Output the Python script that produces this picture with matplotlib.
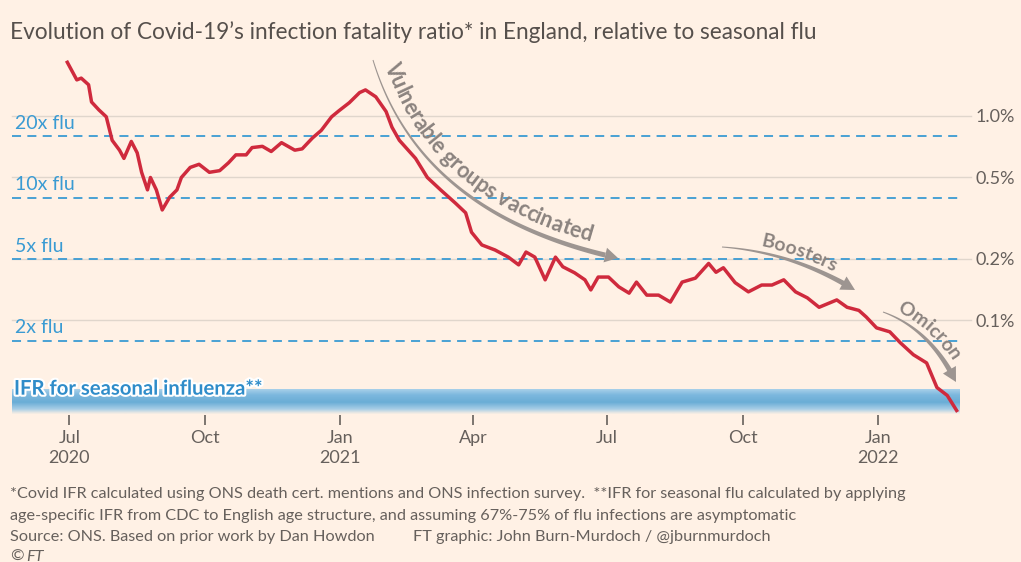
import numpy as np
import pandas as pd
import matplotlib
matplotlib.use("Agg")
import matplotlib.pyplot as plt
from matplotlib.colors import LinearSegmentedColormap
from matplotlib.patches import Polygon
from matplotlib.ticker import NullLocator
from matplotlib.font_manager import FontProperties
from matplotlib import patheffects

W, H = 1021, 562
BG = "#fff1e5"
FONT = "Lato"

# Covid IFR (%), roughly weekly
dates = [
    "2020-06-29", "2020-07-06", "2020-07-09", "2020-07-14", "2020-07-16", "2020-07-21",
    "2020-07-26", "2020-07-30", "2020-08-04", "2020-08-07", "2020-08-12", "2020-08-16",
    "2020-08-19", "2020-08-23", "2020-08-25", "2020-08-29", "2020-09-02", "2020-09-07",
    "2020-09-12", "2020-09-15", "2020-09-21", "2020-09-27", "2020-10-04", "2020-10-11",
    "2020-10-17", "2020-10-22", "2020-10-29", "2020-11-02", "2020-11-09", "2020-11-15",
    "2020-11-22", "2020-12-01", "2020-12-06", "2020-12-13", "2020-12-19", "2020-12-26",
    "2020-12-31", "2021-01-07", "2021-01-14", "2021-01-18", "2021-01-25", "2021-02-01",
    "2021-02-05", "2021-02-10", "2021-02-21", "2021-03-01", "2021-03-10", "2021-03-20",
    "2021-03-27", "2021-03-31", "2021-04-07", "2021-04-16", "2021-04-25", "2021-05-02",
    "2021-05-07", "2021-05-13", "2021-05-20", "2021-05-27", "2021-06-01", "2021-06-09",
    "2021-06-16", "2021-06-20", "2021-06-25", "2021-07-02", "2021-07-09", "2021-07-16",
    "2021-07-21", "2021-07-28", "2021-08-05", "2021-08-13", "2021-08-21", "2021-08-30",
    "2021-09-08", "2021-09-13", "2021-09-18", "2021-09-26", "2021-10-05", "2021-10-14",
    "2021-10-21", "2021-10-29", "2021-11-06", "2021-11-14", "2021-11-22", "2021-12-04",
    "2021-12-11", "2021-12-19", "2021-12-24", "2021-12-31", "2022-01-09", "2022-01-16",
    "2022-01-25", "2022-02-03", "2022-02-10", "2022-02-17", "2022-02-24",
]
ifr_pct = [
    1.86, 1.50, 1.53, 1.42, 1.17, 1.07,
    0.99, 0.76, 0.68, 0.62, 0.75, 0.66,
    0.53, 0.435, 0.50, 0.435, 0.347, 0.40,
    0.435, 0.50, 0.56, 0.58, 0.53, 0.54,
    0.59, 0.645, 0.645, 0.70, 0.71, 0.67,
    0.74, 0.68, 0.69, 0.78, 0.85, 0.99,
    1.06, 1.16, 1.30, 1.34, 1.24, 1.05,
    0.88, 0.76, 0.62, 0.50, 0.435, 0.375,
    0.336, 0.27, 0.234, 0.221, 0.204, 0.187,
    0.216, 0.204, 0.158, 0.204, 0.183, 0.171,
    0.158, 0.141, 0.163, 0.163, 0.146, 0.136,
    0.154, 0.133, 0.133, 0.123, 0.154, 0.161,
    0.19, 0.172, 0.181, 0.153, 0.138, 0.149,
    0.149, 0.158, 0.138, 0.129, 0.116, 0.126,
    0.116, 0.112, 0.104, 0.092, 0.088, 0.078,
    0.068, 0.062, 0.047, 0.043, 0.0357,
]

flu_ifr = 0.0399
flu_range = (0.0347, 0.0464)
flu_multiples = [2, 5, 10, 20]

pct_ticks = [0.1, 0.2, 0.5, 1.0]
pct_labels = ["0.1%", "0.2%", "0.5%", "1.0%"]
month_ticks = ["2020-07-01", "2020-10-01", "2021-01-01", "2021-04-01",
               "2021-07-01", "2021-10-01", "2022-01-01"]
month_labels = ["Jul\n2020", "Oct", "Jan\n2021", "Apr", "Jul", "Oct", "Jan\n2022"]

TEXT = "#66605c"
BLUE = "#3a9bd3"
RED = "#cf2a3d"
GREY_ARROW = "#9d9591"
GREY_TEXT = "#8b837f"


def fig_xy(x, y):
    """Reference pixel (y down) -> figure fraction."""
    return x / W, 1 - y / H


fig = plt.figure(figsize=(W / 100, H / 100), dpi=100, facecolor=BG)
ax = fig.add_axes([12 / W, 1 - 415 / H, 948 / W, 365 / H], facecolor=BG)

x = pd.to_datetime(dates)
ax.set_yscale("log")
ax.set_ylim(0.0345, 2.10)
ax.set_xlim(pd.Timestamp("2020-05-23"), pd.Timestamp("2022-02-25 16:00"))

# solid percentage gridlines, running slightly past the plot
for v in pct_ticks:
    ax.axhline(v, color="#e0d6cc", lw=1.0, xmax=1.012, clip_on=False, zorder=1)

# dashed multiples-of-flu lines
for m in flu_multiples:
    ax.axhline(flu_ifr * m, color=BLUE, lw=1.3, ls=(0, (5, 3.5)), zorder=2)
    ax.annotate(f"{m}x flu", xy=(0, flu_ifr * m), xycoords=("axes fraction", "data"),
                xytext=(2.5, 3), textcoords="offset points", va="bottom", ha="left",
                color=BLUE, fontsize=14, family=FONT)

# seasonal flu band as a vertical gradient
band_cmap = LinearSegmentedColormap.from_list(
    "flu", [(0, "#b3d6ec"), (0.3, "#7db8de"), (0.6, "#6aadd6"), (0.85, "#a6cde6"), (1, "#f3ece4")])
grad = np.linspace(0, 1, 100)[:, None]
xl = ax.get_xlim()
ax.imshow(grad, cmap=band_cmap, aspect="auto", origin="upper",
          extent=[xl[0], xl[1], flu_range[0], flu_range[1]], zorder=3, interpolation="bilinear")
ax.set_xlim(xl)
ax.set_ylim(0.0345, 2.10)

flu_lbl = ax.text(2 / 948, flu_range[1], "IFR for seasonal influenza**",
                  transform=ax.get_yaxis_transform(), fontsize=14.6, family=FONT,
                  fontweight="bold", color="#2f8cc9", va="center", ha="left", zorder=4)
flu_lbl.set_path_effects([patheffects.withStroke(linewidth=3, foreground="white")])

ax.plot(x, ifr_pct, color=RED, lw=2.5, solid_joinstyle="round", solid_capstyle="butt", zorder=5)

# axes furniture
for s in ax.spines.values():
    s.set_visible(False)
ax.yaxis.tick_right()
ax.set_yticks(pct_ticks)
ax.set_yticklabels(pct_labels)
ax.yaxis.set_minor_locator(NullLocator())
ax.tick_params(axis="y", length=0, pad=11, labelsize=13, labelcolor=TEXT)
ax.set_xticks(pd.to_datetime(month_ticks))
ax.set_xticklabels(month_labels, linespacing=1.3)
ax.tick_params(axis="x", length=7, width=1.2, color=TEXT, pad=4, labelsize=13, labelcolor=TEXT)
for lbl in ax.get_xticklabels() + ax.get_yticklabels():
    lbl.set_family(FONT)

# curved arrows with text along them
renderer = fig.canvas.get_renderer()


def curved_annotation(p0, p1, p2, label, text_start, fs, w0=1.0, w1=5.0, head_len=14, head_w=15, off=6):
    p0 = np.array([p0[0], H - p0[1]], float)
    p1 = np.array([p1[0], H - p1[1]], float)
    p2 = np.array([p2[0], H - p2[1]], float)
    t = np.linspace(0, 1, 400)[:, None]
    pts = (1 - t) ** 2 * p0 + 2 * (1 - t) * t * p1 + t ** 2 * p2
    seg = np.hypot(*np.diff(pts, axis=0).T)
    arc = np.concatenate([[0], np.cumsum(seg)])
    tang = np.gradient(pts, axis=0)
    tang /= np.hypot(tang[:, 0], tang[:, 1])[:, None]
    norm = np.column_stack([-tang[:, 1], tang[:, 0]])

    L = arc[-1]
    body = arc <= L - head_len + 1
    wid = w0 + (w1 - w0) * arc[body] / (L - head_len)
    left = pts[body] + norm[body] * wid[:, None] / 2
    right = pts[body] - norm[body] * wid[:, None] / 2
    poly = np.vstack([left, right[::-1]])
    fig.add_artist(Polygon(poly / [W, H], closed=True, transform=fig.transFigure,
                           fc=GREY_ARROW, ec="none", zorder=6))
    i = np.searchsorted(arc, L - head_len)
    base, nm = pts[i], norm[i]
    head = np.array([base + nm * head_w / 2, pts[-1], base - nm * head_w / 2])
    fig.add_artist(Polygon(head / [W, H], closed=True, transform=fig.transFigure,
                           fc=GREY_ARROW, ec="none", zorder=6))

    # text baseline follows the offset curve, spaced by its own arc length
    base_pts = pts + norm * off
    base_arc = np.concatenate([[0], np.cumsum(np.hypot(*np.diff(base_pts, axis=0).T))])
    fp = FontProperties(family=FONT, weight="bold", size=fs)
    ref = renderer.get_text_width_height_descent("H", fp, ismath=False)[0]
    edges = [renderer.get_text_width_height_descent(label[:k] + "H", fp, ismath=False)[0] - ref
             for k in range(len(label) + 1)]
    edges[0] = 0
    for k, ch in enumerate(label):
        if ch == " ":
            continue
        s = text_start + (edges[k] + edges[k + 1]) / 2
        j = int(np.clip(np.searchsorted(base_arc, s), 1, len(base_arc) - 1))
        q, tg = base_pts[j], tang[j]
        ang = np.degrees(np.arctan2(tg[1], tg[0]))
        fig.text(q[0] / W, q[1] / H, ch, fontproperties=fp, color=GREY_TEXT, rotation=ang,
                 rotation_mode="anchor", ha="center", va="baseline", zorder=7)


curved_annotation((373, 60), (420, 215), (618, 258), "Vulnerable groups vaccinated", 8, 15.5, off=9)
curved_annotation((722, 247), (792, 252), (855, 290), "Boosters", 38, 14)
curved_annotation((883, 312), (930, 329), (956, 382), "Omicron", 12, 14)

# title and footer
fig.text(*fig_xy(10, 32), "Evolution of Covid-19\u2019s infection fatality ratio* in England, relative to seasonal flu",
         fontsize=16.3, color="#56504c", va="center", ha="left", family=FONT)
foot = dict(fontsize=11.7, color=TEXT, va="center", ha="left", family=FONT)
fig.text(*fig_xy(10, 494), "*Covid IFR calculated using ONS death cert. mentions and ONS infection survey.  "
         "**IFR for seasonal flu calculated by applying", **foot)
fig.text(*fig_xy(10, 516), "age-specific IFR from CDC to English age structure, and assuming 67%-75% "
         "of flu infections are asymptomatic", **foot)
fig.text(*fig_xy(10, 537), "Source: ONS. Based on prior work by Dan Howdon", **foot)
fig.text(*fig_xy(413, 537), "FT graphic: John Burn-Murdoch / @jburnmurdoch", **foot)
fig.text(*fig_xy(10, 557), "\u00a9", **foot)
fig.text(*fig_xy(26, 557), "FT", style="italic", **foot)

fig.savefig("out.png", dpi=100, facecolor=BG)
